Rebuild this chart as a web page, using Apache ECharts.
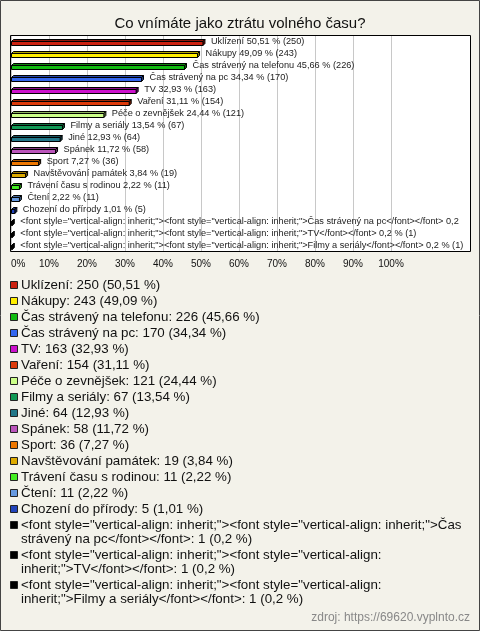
<!DOCTYPE html>
<html>
<head>
<meta charset="utf-8">
<style>
html,body{margin:0;padding:0;background:#f3f2ea;}
#chart{width:480px;height:631px;}
</style>
<script src="https://cdn.jsdelivr.net/npm/echarts@6/dist/echarts.min.js"></script>
</head>
<body>
<div id="chart"></div>
<script>
const title = 'Co vnímáte jako ztrátu volného času?';
const source = 'zdroj: https://69620.vyplnto.cz';
const categories = [
  'Uklízení', 'Nákupy', 'Čas strávený na telefonu', 'Čas strávený na pc', 'TV', 'Vaření',
  'Péče o zevnějšek', 'Filmy a seriály', 'Jiné', 'Spánek', 'Sport', 'Navštěvování památek',
  'Trávení času s rodinou', 'Čtení', 'Chození do přírody',
  '<font style="vertical-align: inherit;"><font style="vertical-align: inherit;">Čas strávený na pc</font></font>',
  '<font style="vertical-align: inherit;"><font style="vertical-align: inherit;">TV</font></font>',
  '<font style="vertical-align: inherit;"><font style="vertical-align: inherit;">Filmy a seriály</font></font>'
];
const counts = [250, 243, 226, 170, 163, 154, 121, 67, 64, 58, 36, 19, 11, 11, 5, 1, 1, 1];
const percents = [50.51, 49.09, 45.66, 34.34, 32.93, 31.11, 24.44, 13.54, 12.93, 11.72, 7.27, 3.84, 2.22, 2.22, 1.01, 0.2, 0.2, 0.2];
const colors = ['#cc2211', '#ffee00', '#11bb11', '#3366ee', '#cc11cc', '#dd3a0a', '#ccff88', '#119955',
  '#227788', '#bb55bb', '#ee7700', '#ddaa00', '#44ee22', '#6699e0', '#2244bb', '#000000', '#000000', '#000000'];
const xTicks = [0, 10, 20, 30, 40, 50, 60, 70, 80, 90, 100];

const FONT = '"Liberation Sans", Arial, sans-serif';
const LEG_FONT = '13.33px ' + FONT;
const BAR_FONT = '9.2px ' + FONT;
const fmt = v => String(v).replace('.', ',');

function shade(hex, f) {
  const n = parseInt(hex.slice(1), 16);
  let r = (n >> 16) & 255, g = (n >> 8) & 255, b = n & 255;
  r = Math.round(r * f); g = Math.round(g * f); b = Math.round(b * f);
  return 'rgb(' + r + ',' + g + ',' + b + ')';
}

const chart = echarts.init(document.getElementById('chart'), null, {renderer: 'canvas'});

// plot box
const BOX = {x: 10, y: 35, w: 460, h: 216};

// legend text wrapping
const mctx = document.createElement('canvas').getContext('2d');
mctx.font = LEG_FONT;
function wrap(text, maxW) {
  const words = text.split(' ');
  const lines = [];
  let cur = '';
  for (const w of words) {
    const t = cur ? cur + ' ' + w : w;
    if (cur && mctx.measureText(t).width > maxW) { lines.push(cur); cur = w; }
    else cur = t;
  }
  if (cur) lines.push(cur);
  return lines;
}

const graphics = [];
graphics.push({type: 'rect', z: -100, silent: true,
  shape: {x: BOX.x + 0.5, y: BOX.y + 0.5, width: BOX.w, height: BOX.h},
  style: {fill: '#ffffff', stroke: null}});
graphics.push({type: 'rect', z: 100, silent: true,
  shape: {x: BOX.x + 0.5, y: BOX.y + 0.5, width: BOX.w, height: BOX.h},
  style: {fill: null, stroke: '#000000', lineWidth: 1}});
graphics.push({type: 'rect', z: 100, silent: true,
  shape: {x: 0.5, y: 0.5, width: 479, height: 630},
  style: {fill: null, stroke: '#444444', lineWidth: 1}});

// legend
let ly = 285;
const LH = 14;
categories.forEach((name, i) => {
  const txt = name + ': ' + counts[i] + ' (' + fmt(percents[i]) + ' %)';
  const lines = wrap(txt, 445);
  graphics.push({type: 'rect', silent: true,
    shape: {x: 10.5, y: Math.round(ly - 4) + 0.5, width: 7, height: 7},
    style: {fill: colors[i], stroke: '#222', lineWidth: 1}});
  graphics.push({type: 'text', silent: true, x: 21, y: ly - LH / 2,
    style: {text: lines.join('\n'), font: LEG_FONT, fill: '#111', lineHeight: LH,
      verticalAlign: 'top', align: 'left'}});
  ly += lines.length * LH + 2;
});

graphics.push({type: 'text', silent: true, x: 470, y: 618,
  style: {text: source, font: '12px ' + FONT, fill: '#888888', align: 'right', verticalAlign: 'middle'}});

const data = categories.map((c, i) => [i, percents[i]]);

chart.setOption({
  animation: false,
  backgroundColor: '#f3f2ea',
  title: {text: title, left: 'center', top: 11,
    textStyle: {fontFamily: FONT, fontSize: 15, fontWeight: 'normal', color: '#111'}},
  grid: {left: 11, top: BOX.y, width: 380, height: BOX.h, containLabel: false},
  xAxis: {type: 'value', min: xTicks[0], max: xTicks[xTicks.length - 1], interval: 10,
    axisLine: {show: false}, axisTick: {show: false},
    splitLine: {show: true, lineStyle: {color: '#c8c8c8', width: 1}},
    axisLabel: {formatter: '{value}%', fontFamily: FONT, fontSize: 10, color: '#111', margin: 8,
      alignMinLabel: 'left'}},
  yAxis: {type: 'category', data: categories, inverse: true,
    axisLine: {show: false}, axisTick: {show: false}, axisLabel: {show: false}, splitLine: {show: false}},
  graphic: {elements: graphics},
  series: [{
    type: 'custom',
    clip: false,
    encode: {x: 1, y: 0},
    data: data,
    z: 5,
    renderItem: function (params, api) {
      const i = params.dataIndex;
      const v = api.value(1);
      const p0 = api.coord([0, api.value(0)]);
      const p1 = api.coord([v, api.value(0)]);
      const x0 = Math.round(p0[0]) + 0.5;
      const x1 = Math.max(p1[0], x0 + 0.8);
      const yc = Math.round(p0[1]);
      const d = 2;
      const yTop = yc + 0.5, yBot = yc + 4.5;
      const col = colors[i];
      const st = '#000';
      const labelX = x1 + d + 6;
      const label = categories[i] + ' ' + fmt(percents[i]) + ' % (' + counts[i] + ')';
      return {type: 'group', children: [
        {type: 'polygon', shape: {points: [[x0, yTop], [x0 + d, yTop - d], [x1 + d, yTop - d], [x1, yTop]]},
          style: {fill: shade(col, 0.7), stroke: st, lineWidth: 1}},
        {type: 'polygon', shape: {points: [[x1, yTop], [x1 + d, yTop - d], [x1 + d, yBot - d], [x1, yBot]]},
          style: {fill: shade(col, 0.55), stroke: st, lineWidth: 1}},
        {type: 'rect', shape: {x: x0, y: yTop, width: x1 - x0, height: yBot - yTop},
          style: {fill: col, stroke: st, lineWidth: 1}},
        {type: 'text', x: labelX, y: yc,
          style: {text: label, font: BAR_FONT, fill: '#222', verticalAlign: 'middle', align: 'left',
            width: BOX.x + BOX.w - labelX, overflow: 'truncate', ellipsis: ''}}
      ]};
    }
  }]
});
</script>
</body>
</html>
